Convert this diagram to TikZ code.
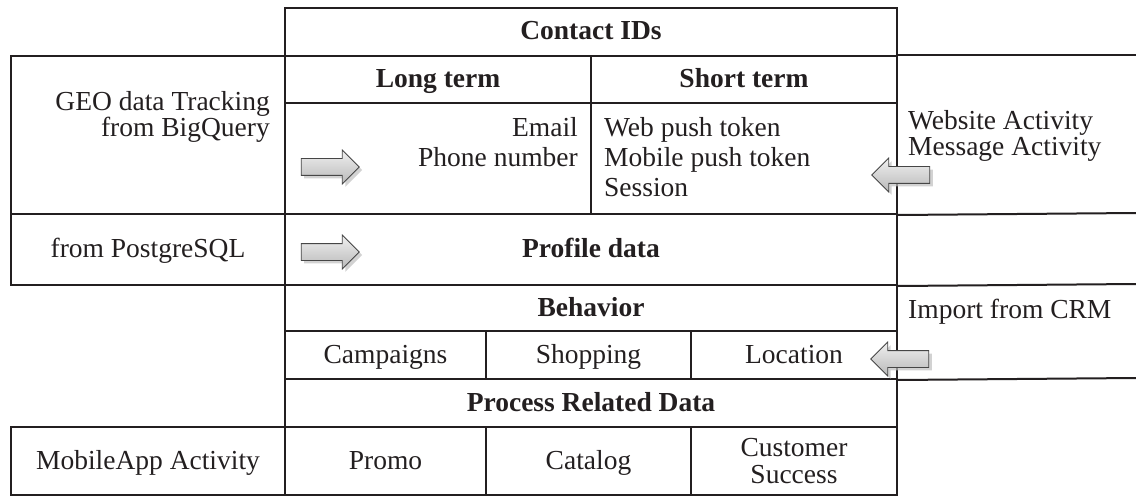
\documentclass[tikz,border=0pt]{standalone}
\usepackage{fontspec}
\setmainfont{Liberation Serif}
\usetikzlibrary{shapes.arrows,shadows}
\definecolor{ink}{HTML}{231F20}
\begin{document}
\begin{tikzpicture}[x=1pt,y=-1pt,
  every node/.style={font=\fontsize{27.5}{30}\selectfont, text=ink},
  cell/.style={draw=ink, line width=2pt, anchor=north west, inner sep=0pt},
  one/.style={cell, text height=20pt, text depth=4pt},
  head/.style={one, font=\fontsize{27.5}{30}\selectfont\bfseries},
  txt/.style={inner sep=0pt},
  rule/.style={draw=ink, line width=2pt},
  blockarrow/.style={single arrow, single arrow head extend=8.5pt, single arrow tip angle=90,
    inner xsep=0pt, inner ysep=8pt, minimum height=58pt, draw=gray!55!black, line width=0.8pt,
    top color=gray!12, bottom color=gray!55,
    drop shadow={shadow xshift=3pt, shadow yshift=-3pt, fill=gray!50, opacity=0.7}}]
\useasboundingbox (0,0) rectangle (1136,500);

% top
\node[head, minimum width=612pt, minimum height=48pt] (contact) at (284,7) {Contact IDs};
\node[head, minimum width=306pt, minimum height=47pt] (long) at (284,55) {Long term};
\node[head, minimum width=306pt, minimum height=47pt] (short) at (590,55) {Short term};
\node[cell, minimum width=306pt, minimum height=111pt] (longbody) at (284,102) {};
\node[cell, minimum width=306pt, minimum height=111pt] (shortbody) at (590,102) {};
\node[txt, anchor=north east, align=right] (ids1) at (578,117) {Email\\Phone number};
\node[txt, anchor=north west, align=left] (ids2) at (604,117) {Web push token\\Mobile push token\\Session};

% left side
\node[cell, minimum width=274pt, minimum height=158pt] (geo) at (10,55) {};
\node[txt, anchor=north east, align=right] (geotxt) at (270,91) {GEO data Tracking\\[-4pt]from BigQuery};
\node[one, minimum width=274pt, minimum height=71pt] (pg) at (10,213) {from PostgreSQL};
\node[one, minimum width=274pt, minimum height=68pt] (mobile) at (10,426) {MobileApp Activity};

% profile and behaviour
\node[head, minimum width=612pt, minimum height=71pt] (profile) at (284,213) {Profile data};
\node[head, minimum width=612pt, minimum height=46pt] (behavior) at (284,284) {Behavior};
\node[one, minimum width=201pt, minimum height=48pt] (campaigns) at (284,330) {Campaigns};
\node[one, minimum width=205pt, minimum height=48pt] (shopping) at (485,330) {Shopping};
\node[one, minimum width=206pt, minimum height=48pt] (location) at (690,330) {Location};
\node[head, minimum width=612pt, minimum height=48pt] (process) at (284,378) {Process Related Data};
\node[one, minimum width=201pt, minimum height=68pt] (promo) at (284,426) {Promo};
\node[one, minimum width=205pt, minimum height=68pt] (catalog) at (485,426) {Catalog};
\node[cell, minimum width=206pt, minimum height=68pt, align=center] (success) at (690,426) {Customer\\[-3pt]Success};

% right side
\coordinate (r1) at (1136,55);
\coordinate (r2) at (1136,213);
\coordinate (r3) at (1136,284);
\coordinate (r4) at (1136,378);
\draw[rule] (short.north east) -- (r1);
\draw[rule] (shortbody.south east) -- (r2);
\draw[rule] (profile.south east) -- (r3);
\draw[rule] (location.south east) -- (r4);
\node[txt, anchor=north west, align=left] (webtxt) at (908,110) {Website Activity\\[-4pt]Message Activity};
\node[txt, anchor=base west] (crm) at (908,318) {Import from CRM};

% arrows
\node[blockarrow] (a1) at (326,167) {};
\node[blockarrow] (a2) at (326,252) {};
\node[blockarrow, shape border rotate=180] (a3) at (905,175) {};
\node[blockarrow, shape border rotate=180] (a4) at (904,359) {};
\end{tikzpicture}
\end{document}
